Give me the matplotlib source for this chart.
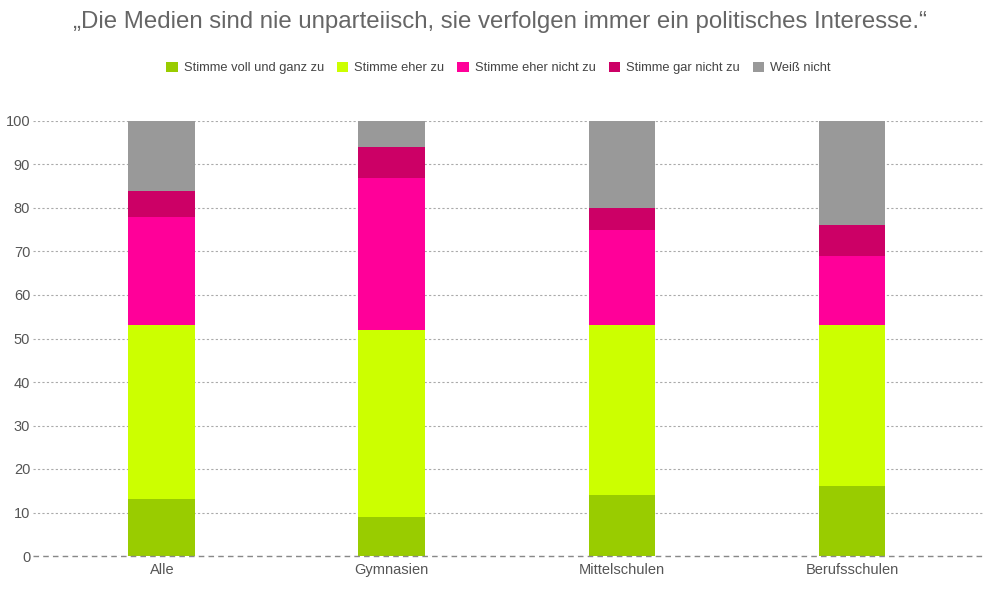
import numpy as np
import matplotlib
matplotlib.use("Agg")
import matplotlib.pyplot as plt

plt.rcParams['font.family'] = ['Liberation Sans', 'DejaVu Sans']

# data
categories = ["Alle", "Gymnasien", "Mittelschulen", "Berufsschulen"]
series = ["Stimme voll und ganz zu", "Stimme eher zu", "Stimme eher nicht zu",
          "Stimme gar nicht zu", "Weiß nicht"]
voll = [13, 9, 14, 16]
eher = [40, 43, 39, 37]
eher_nicht = [25, 35, 22, 16]
gar_nicht = [6, 7, 5, 7]
weiss_nicht = [16, 6, 20, 24]
colors = ["#99cc00", "#ccff00", "#ff0099", "#cc0066", "#999999"]

values = [voll, eher, eher_nicht, gar_nicht, weiss_nicht]

fig = plt.figure(figsize=(9.83, 5.93), dpi=100)
ax = fig.add_axes([33 / 983, 37 / 593, 950 / 983, 435 / 593])

x = np.arange(len(categories))
bottom = np.zeros(len(categories))
for name, vals, col in zip(series, values, colors):
    ax.bar(x, vals, width=0.29, bottom=bottom, color=col, label=name, zorder=3)
    bottom += np.array(vals)

ax.set_xlim(-0.56, 3.57)
ax.set_ylim(0, 100)
ax.set_yticks(np.arange(0, 101, 10))
ax.set_xticks(x)
ax.set_xticklabels(categories)

for s in ax.spines.values():
    s.set_visible(False)
ax.grid(axis='y', color='#aaaaaa', linestyle=(0, (2, 2)), linewidth=0.8, zorder=0)
ax.axhline(0, color='#888888', linestyle=(0, (4, 3)), linewidth=1.0, zorder=4, clip_on=False)
ax.tick_params(axis='both', length=0, colors='#555555', labelsize=10.5)
ax.tick_params(axis='y', pad=2)
ax.tick_params(axis='x', pad=5)

fig.text(0.509, 1 - 22 / 593, "\u201eDie Medien sind nie unparteiisch, sie verfolgen immer ein politisches Interesse.\u201c",
         ha='center', va='center', fontsize=17.3, color='#666666')

fig.legend(loc='center', bbox_to_anchor=(0.507, 1 - 68 / 593), ncol=5, frameon=False,
           fontsize=9.3, handlelength=0.9, handleheight=0.9, handletextpad=0.45,
           columnspacing=1.0, labelcolor='#444444')

fig.savefig("out.png", dpi=100)
